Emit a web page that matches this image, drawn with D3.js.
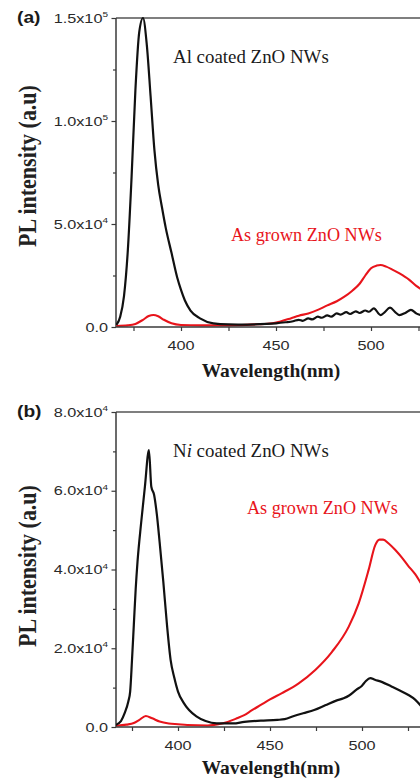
<!DOCTYPE html>
<html><head><meta charset="utf-8">
<script src="https://cdn.jsdelivr.net/npm/d3@7"></script>
<style>html,body{margin:0;padding:0;background:#fff;}svg{display:block;}</style>
</head><body>
<svg id="c" width="420" height="781"></svg>
<script>
// ---------- DATA ----------
// Panel (a): Al coated vs as grown
const alWave = [366,368,370,372,374,376,378,380,382,384,386,388,390,392,395,398,400,402,405,410,417,425,435,445,450,455,459,462,464,467,469,472,474,477,479,482,484,487,489,492,494,497,499,501.5,505,507,510,513,515,518,521,524,527];
const alInt  = [1000,5000,15000,37000,73000,115000,143000,150000,137000,112000,86000,69000,58000,48000,36000,24000,18000,13000,8000,4200,1800,1300,1200,1500,1800,2300,2800,3500,3000,4200,3700,5000,4500,5600,5000,6600,6000,7200,6300,7600,6800,8000,7400,9000,5800,7000,9400,7000,5800,6800,8300,6500,5500];
const agAWave = [366,372,376,380,383,385.5,388,391,395,400,410,420,430,440,448,452,458,462,467,472,477,482,486,490,494,497,500,503,505,508,511,515,520,524,527];
const agAInt  = [500,800,1500,3500,5300,5800,5200,3500,1800,1000,800,800,900,1300,1800,2600,4300,5500,6600,8300,10500,12500,14700,17500,21000,25000,28500,29800,30100,29300,28000,26000,23000,19800,18000];

// Panel (b): Ni coated vs as grown
const niWave = [366,369,371,373,374,375,376,377,378,380,382,384.2,385.5,387,388.5,390,392,394,396,398,400,403,406,410,415,421,430,436,445,454,458,463,468,474,480,486,490,493,497,500,502,504.5,507,511,516,520,525,529,532];
const niInt  = [500,1500,3500,6500,9000,17000,26000,35000,42000,52000,61000,70300,61000,59000,54000,47000,37000,26000,17000,12500,9000,6200,4300,2700,1500,900,900,1300,1600,1800,2000,2800,3500,4300,5500,6700,7300,8000,9500,10500,11600,12400,12000,11400,10300,9400,8200,6900,5400];
const agBWave = [366,372,376,379,382.5,386,390,395,400,405,416,422,427,432,436,440,445,450,456.5,465.6,474.6,483.7,492.8,498.2,503.6,507.2,509.5,511.5,514.5,518,521.7,525,528.9,532];
const agBInt  = [300,600,1000,1800,2800,2200,1400,900,700,500,400,700,1300,2200,3000,4200,5600,7000,8600,11100,14500,19100,25500,31400,39900,46200,47600,47600,46600,45000,43000,41000,38800,36500];

// Ticks
const xMajor = [400,450,500];
const xMajorLabels = ["400","450","500"];
const xMinor = [375,425,475,525];
const yMajorA = [0,50000,100000,150000];
const yLabelsA = [["0.0",""],["5.0x10","4"],["1.0x10","5"],["1.5x10","5"]];
const yMinorA = [25000,75000,125000];
const yMajorB = [0,20000,40000,60000,80000];
const yLabelsB = [["0.0",""],["2.0x10","4"],["4.0x10","4"],["6.0x10","4"],["8.0x10","4"]];
const yMinorB = [10000,30000,50000,70000];

const panelLabels = ["(a)","(b)"];
const coatedNames = ["Al coated ZnO NWs","Ni coated ZnO NWs"];
const grownName = "As grown ZnO NWs";
const xTitle = "Wavelength(nm)";
const yTitle = "PL intensity (a.u)";

// ---------- DRAW ----------
const svg = d3.select("#c");
const RED = "#e8141b", BLACK = "#111", AX = "#3a3a3a";
const serif = "'Liberation Serif','Times New Roman',serif";
const sans = "'Liberation Sans',Arial,sans-serif";

const panels = [
  {x: d3.scaleLinear().domain([400,500]).range([181,371]),
   y: d3.scaleLinear().domain([0,150000]).range([327,18]),
   top:18, bottom:327, yMajor:yMajorA, yLabels:yLabelsA, yMinor:yMinorA,
   coated:{w:alWave,v:alInt}, grown:{w:agAWave,v:agAInt},
   lab:panelLabels[0], labY:23, coatedTxt:{x:173,y:63}, grownTxt:{x:231,y:241},
   xTitleY:377, yTitleC:166},
  {x: d3.scaleLinear().domain([400,500]).range([178,362]),
   y: d3.scaleLinear().domain([0,80000]).range([727,412]),
   top:412, bottom:727, yMajor:yMajorB, yLabels:yLabelsB, yMinor:yMinorB,
   coated:{w:niWave,v:niInt}, grown:{w:agBWave,v:agBInt},
   lab:panelLabels[1], labY:417, coatedTxt:{x:173,y:457}, grownTxt:{x:247,y:514},
   xTitleY:774, yTitleC:566}
];
const L = 116, R = 420;

panels.forEach((p, i) => {
  const g = svg.append("g");
  const cid = "clip" + i;
  svg.append("clipPath").attr("id", cid).append("rect")
    .attr("x", L).attr("y", p.top - 2).attr("width", R - L).attr("height", p.bottom - p.top + 2);

  // y ticks
  const yAxis = d3.axisLeft(p.y).tickValues(p.yMajor).tickSize(4.5).tickFormat("");
  const yAxisMinor = d3.axisLeft(p.y).tickValues(p.yMinor).tickSize(3).tickFormat("");
  [yAxis, yAxisMinor].forEach(ax => {
    const a = g.append("g").attr("transform", `translate(${L},0)`).call(ax);
    a.select(".domain").remove();
    a.selectAll("line").attr("stroke", AX).attr("stroke-width", 1.2);
  });
  // x ticks
  const xAxis = d3.axisBottom(p.x).tickValues(xMajor.concat(xMinor)).tickSize(4).tickFormat("");
  const xa = g.append("g").attr("transform", `translate(0,${p.bottom})`).call(xAxis);
  xa.select(".domain").remove();
  xa.selectAll("line").attr("stroke", AX).attr("stroke-width", 1.2);

  // frame lines
  g.append("line").attr("x1", L).attr("x2", R).attr("y1", p.top).attr("y2", p.top)
    .attr("stroke", "#555").attr("stroke-width", 1.5);
  g.append("line").attr("x1", L).attr("x2", L).attr("y1", p.top).attr("y2", p.bottom)
    .attr("stroke", AX).attr("stroke-width", 1.5);

  // curves
  const line = d3.line().x(d => p.x(d[0])).y(d => p.y(d[1])).curve(d3.curveMonotoneX);
  const cg = g.append("g").attr("clip-path", `url(#${cid})`);
  cg.append("path").datum(p.grown.w.map((w, k) => [w, p.grown.v[k]]))
    .attr("d", line).attr("fill", "none").attr("stroke", RED).attr("stroke-width", 2.1).attr("stroke-linejoin","round");
  cg.append("path").datum(p.coated.w.map((w, k) => [w, p.coated.v[k]]))
    .attr("d", line).attr("fill", "none").attr("stroke", BLACK).attr("stroke-width", 2.2).attr("stroke-linejoin","round");

  g.append("line").attr("x1", L).attr("x2", R).attr("y1", p.bottom).attr("y2", p.bottom)
    .attr("stroke", AX).attr("stroke-width", 1.5);

  // y tick labels
  p.yMajor.forEach((v, k) => {
    const t = g.append("text")
      .attr("transform", `translate(108,${p.y(v) + 4.6}) scale(1.25,1)`)
      .attr("text-anchor", "end").attr("fill", "#2a2a2a")
      .style("font-family", sans).style("font-size", "13px");
    t.append("tspan").text(p.yLabels[k][0]);
    if (p.yLabels[k][1]) t.append("tspan").attr("dy", -5.5).style("font-size", "8px").text(p.yLabels[k][1]);
  });
  // x tick labels
  xMajor.forEach((v, k) => {
    g.append("text").attr("transform", `translate(${p.x(v)},${p.bottom + 22.5}) scale(1.25,1)`)
      .attr("text-anchor", "middle").attr("fill", "#2a2a2a")
      .style("font-family", sans).style("font-size", "13px").text(xMajorLabels[k]);
  });

  // titles
  g.append("text").attr("x", 271).attr("y", p.xTitleY).attr("text-anchor", "middle")
    .attr("fill", "#1a1a1a").style("font-family", serif).style("font-weight", "bold")
    .style("font-size", "19.5px").text(xTitle);
  g.append("text").attr("transform", `translate(36,${p.yTitleC}) scale(1.15,1) rotate(-90)`)
    .attr("text-anchor", "middle").attr("fill", "#222").style("font-family", serif)
    .style("font-weight", "bold").style("font-size", "22px").text(yTitle);

  // panel label
  g.append("text").attr("transform", `translate(17,${p.labY}) scale(1.2,1)`)
    .attr("fill", "#1a1a1a").style("font-family", sans).style("font-weight", "bold")
    .style("font-size", "16px").text(p.lab);

  // annotations
  const ct = g.append("text").attr("transform", `translate(${p.coatedTxt.x},${p.coatedTxt.y}) scale(1.05,1)`)
    .attr("fill", "#1a1a1a").style("font-family", serif).style("font-size", "18px");
  if (i === 1) {
    ct.append("tspan").text("N");
    ct.append("tspan").style("font-style", "italic").text("i");
    ct.append("tspan").text(coatedNames[i].slice(2));
  } else {
    ct.text(coatedNames[i]);
  }
  g.append("text").attr("transform", `translate(${p.grownTxt.x},${p.grownTxt.y}) scale(1.01,1)`)
    .attr("fill", RED).style("font-family", serif).style("font-size", "18px").text(grownName);
});
</script>
</body></html>
